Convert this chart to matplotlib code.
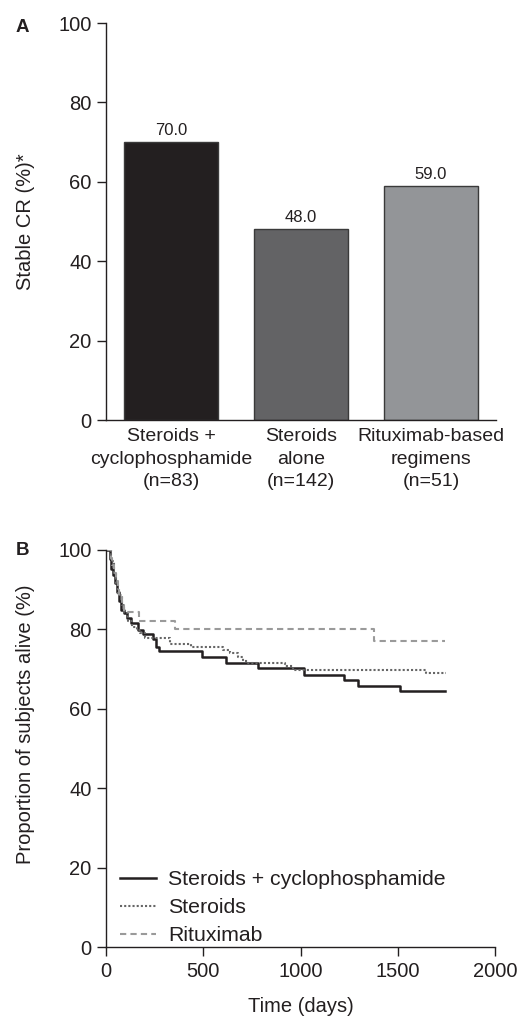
# -*- coding: utf-8 -*-

import matplotlib
matplotlib.use("Agg")
from matplotlib import rcParams
import matplotlib.pyplot as plt

# Panel A data
categories = ["Steroids +\ncyclophosphamide\n(n=83)",
              "Steroids\nalone\n(n=142)",
              "Rituximab-based\nregimens\n(n=51)"]
stable_cr = [70.0, 48.0, 59.0]
bar_colors = ["#231f20", "#636365", "#939598"]

# Panel B data (Kaplan-Meier steps, days / % alive)
cyclo_days = [0, 20, 26, 35, 45, 55, 65, 75, 90, 110, 130, 166, 190, 240, 258,
              274, 493, 617, 780, 1020, 1226, 1295, 1514, 1741]
cyclo_alive = [100, 97.6, 95.2, 93.5, 91.5, 89.4, 87.0, 84.8, 84.0, 82.9, 81.4,
               79.7, 78.7, 77.5, 75.6, 74.5, 73.0, 71.5, 70.1, 68.4, 67.2, 65.7,
               64.4, 64.4]

ster_days = [0, 28, 40, 50, 60, 80, 95, 115, 135, 158, 175, 200, 329, 437, 600,
             640, 680, 705, 730, 918, 960, 1645, 1750]
ster_alive = [100, 97.0, 94.0, 91.0, 88.5, 86.0, 84.0, 82.0, 80.6, 79.7, 79.0,
              77.8, 76.3, 75.6, 74.7, 73.9, 73.0, 72.0, 71.5, 70.7, 69.8, 68.9,
              68.9]

ritux_days = [0, 25, 32, 40, 50, 60, 68, 80, 95, 171, 355, 1380, 1743]
ritux_alive = [100, 98.0, 96.0, 94.0, 92.0, 90.0, 88.0, 86.0, 84.3, 82.0, 79.9,
               77.1, 77.1]

text_color = "#231f20"
rcParams['font.family'] = ['Liberation Sans', 'DejaVu Sans']
rcParams['text.color'] = text_color
rcParams['axes.labelcolor'] = text_color
rcParams['xtick.color'] = text_color
rcParams['ytick.color'] = text_color
rcParams['axes.edgecolor'] = text_color
rcParams['axes.linewidth'] = 1.0

plt.close("all")
fig = plt.figure(figsize=(5.21, 10.16), dpi=100)

""" Panel A: stable complete response bars """
ax1 = fig.add_axes([0.2035, 0.5866, 0.7486, 0.3907])
x = range(len(categories))
bars = ax1.bar(x, stable_cr, width=0.72, color=bar_colors,
               edgecolor="#3a3a3a", linewidth=1.0)
ax1.bar_label(bars, labels=["%.1f" % v for v in stable_cr], padding=3,
              fontsize=12, color=text_color)
ax1.set_xlim(-0.5, 2.5)
ax1.set_ylim(0, 100)
ax1.set_yticks(range(0, 101, 20))
ax1.set_xticks(list(x))
ax1.set_xticklabels(categories, fontsize=14, linespacing=1.4)
ax1.tick_params(axis="x", length=0, pad=6)
ax1.tick_params(axis="y", length=6.5, width=1.0, labelsize=14.5, pad=4)
ax1.spines["top"].set_visible(False)
ax1.spines["right"].set_visible(False)
ax1.set_ylabel("Stable CR (%)*", fontsize=14.5)
ax1.yaxis.set_label_coords(-0.182, 0.5)

""" Panel B: survival curves """
ax2 = fig.add_axes([0.2035, 0.0679, 0.7466, 0.3912])
ax2.plot(cyclo_days, cyclo_alive, drawstyle="steps-post", color="#231f20",
         linewidth=1.8, label="Steroids + cyclophosphamide")
ax2.plot(ster_days, ster_alive, drawstyle="steps-post", color="#666666",
         linewidth=1.5, linestyle=(0, (1, 1)), label="Steroids")
ax2.plot(ritux_days, ritux_alive, drawstyle="steps-post", color="#9a9a9a",
         linewidth=1.5, linestyle=(0, (3, 2)), label="Rituximab")
ax2.set_xlim(0, 2000)
ax2.set_ylim(0, 100)
ax2.set_xticks(range(0, 2001, 500))
ax2.set_yticks(range(0, 101, 20))
ax2.tick_params(length=6.5, width=1.0, labelsize=14.5, pad=4)
ax2.spines["top"].set_visible(False)
ax2.spines["right"].set_visible(False)
ax2.set_xlabel("Time (days)", fontsize=14.5, labelpad=12)
ax2.set_ylabel("Proportion of subjects alive (%)", fontsize=14.5)
ax2.yaxis.set_label_coords(-0.182, 0.56)
ax2.legend(loc="lower left", bbox_to_anchor=(0.036, 0.005), frameon=False,
           fontsize=15.3, handlelength=1.7, handletextpad=0.55,
           labelspacing=0.42, borderpad=0, borderaxespad=0)

""" Panel letters """
fig.text(0.03, 0.973, "A", fontsize=13.5, fontweight="bold", va="center")
fig.text(0.03, 0.458, "B", fontsize=13.5, fontweight="bold", va="center")

fig.savefig("out.png", dpi=100)
